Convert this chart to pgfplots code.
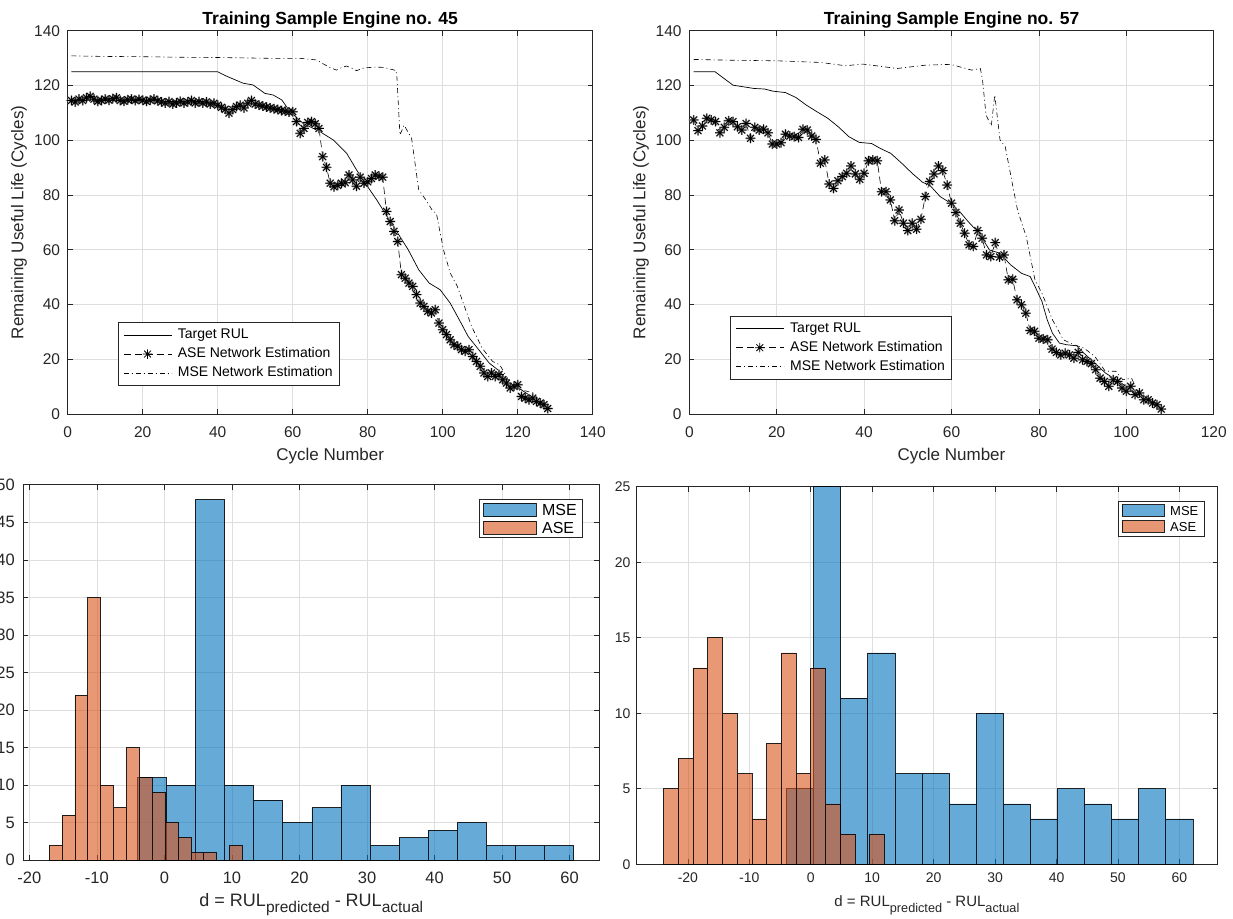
\documentclass[border=0pt]{standalone}
\usepackage{fontspec}
\setmainfont{Liberation Sans}
\usepackage{pgfplots}
\usepackage{pgfplotstable}
\pgfplotsset{compat=1.18}
\definecolor{mblue}{rgb}{0,0.447,0.741}
\definecolor{morange}{rgb}{0.85,0.325,0.098}
\definecolor{gridc}{RGB}{222,222,222}
\definecolor{axc}{RGB}{38,38,38}

\pgfdeclareplotmark{mstar}{%
  \pgfpathmoveto{\pgfqpoint{-\pgfplotmarksize}{0pt}}\pgfpathlineto{\pgfqpoint{\pgfplotmarksize}{0pt}}%
  \pgfpathmoveto{\pgfqpoint{0pt}{-\pgfplotmarksize}}\pgfpathlineto{\pgfqpoint{0pt}{\pgfplotmarksize}}%
  \pgfpathmoveto{\pgfqpoint{-0.707\pgfplotmarksize}{-0.707\pgfplotmarksize}}\pgfpathlineto{\pgfqpoint{0.707\pgfplotmarksize}{0.707\pgfplotmarksize}}%
  \pgfpathmoveto{\pgfqpoint{-0.707\pgfplotmarksize}{0.707\pgfplotmarksize}}\pgfpathlineto{\pgfqpoint{0.707\pgfplotmarksize}{-0.707\pgfplotmarksize}}%
  \pgfusepathqstroke}

% ASE estimates, engine 45
\pgfplotstableread{
x y
1 114.5
2 114
3 115
4 114.5
5 115.5
6 116
7 115
8 114.2
9 114.5
10 115
11 114.6
12 115.2
13 115.5
14 114.5
15 114.2
16 114.8
17 115
18 114.5
19 114.9
20 114.6
21 114.2
22 114.6
23 115
24 114.4
25 114
26 113.6
27 114.1
28 113.2
29 113.6
30 114.2
31 113.6
32 114
33 114.5
34 113.6
35 114.1
36 113.6
37 114
38 113.2
39 113.5
40 112.8
41 112
42 111.3
43 109.9
44 111.2
45 112.3
46 112.8
47 111.8
48 113.5
49 114.5
50 113.2
51 112.8
52 112.5
53 112.1
54 111.8
55 111.5
56 111.2
57 110.8
58 110.6
59 110.3
60 110.4
61 106.8
62 102.5
63 104.3
64 106.5
65 106.8
66 106
67 104.3
68 94
69 90.1
70 84.3
71 83
72 83.5
73 84.3
74 84.5
75 87.3
76 85.5
77 83.2
78 86.5
79 84.3
80 84.8
81 86
82 87.3
83 86.8
84 86.5
85 74
86 70.3
87 66.7
88 63
89 50.9
90 49.6
91 47.8
92 46.6
93 43.6
94 40.5
95 39.3
96 37.5
97 36.9
98 38.1
99 33.2
100 30.8
101 29
102 27.1
103 25.3
104 24.7
105 23.5
106 22.9
107 23.5
108 21
109 19.2
110 17.4
111 15
112 13.7
113 15
114 13.7
115 14.4
116 12.5
117 11.3
118 9.5
119 10.1
120 10.7
121 6.4
122 5.8
123 5.2
124 5.8
125 4.6
126 4
127 3.4
128 2
}\aseA

% ASE estimates, engine 57
\pgfplotstableread{
x y
1 107.4
2 103.5
3 105.2
4 108
5 107.4
6 106.8
7 102.7
8 104.7
9 107.1
10 106.8
11 104.9
12 103.7
13 106.1
14 100.7
15 104.7
16 103.7
17 104
18 102.7
19 98.6
20 98.6
21 99.1
22 102.2
23 101.5
24 101.3
25 101
26 104
27 103.7
28 101.5
29 100.3
30 91.6
31 92.8
32 84
33 82.4
34 85.2
35 86.7
36 87.9
37 90.6
38 87.7
39 85.7
40 87.9
41 92.5
42 92.8
43 92.5
44 81.2
45 81.2
46 78.2
47 70.6
48 74.5
49 69.7
50 67
51 69.7
52 67.5
53 71.1
54 79.4
55 84.9
56 87.7
57 90.6
58 88.9
59 83.6
60 77
61 73.6
62 69.7
63 66
64 61.8
65 61.2
66 67
67 64.2
68 58.1
69 57.5
70 62.6
71 57.3
72 58.1
73 49
74 49.2
75 41.7
76 39.9
77 36.8
78 30.5
79 30.2
80 27.7
81 27.4
82 27.1
83 23.7
84 22.5
85 21.6
86 22.2
87 21.6
88 20.4
89 22.5
90 19.8
91 19.2
92 18.4
93 16.2
94 13.1
95 11.9
96 10.1
97 12.5
98 11.9
99 9.5
100 8.3
101 10.1
102 7.1
103 7.7
104 5.2
105 5.2
106 4
107 3.4
108 1.8
}\aseB

\pgfplotsset{
  mat/.style={
    scale only axis,
    axis line style={axc, line width=0.6pt},
    every tick/.style={axc, line width=0.6pt},
    major tick length=5pt,
    grid=major,
    major grid style={gridc, line width=0.6pt},
    /pgf/number format/assume math mode=true,
    every tick label/.append style={inner sep=0pt, text=axc},
  },
  topax/.style={
    mat,
    width=525pt, height=383.3pt,
    ymin=0, ymax=140, ytick={0,20,...,140},
    tick label style={font=\fontsize{15.5}{15.5}\selectfont},
    xticklabel style={yshift=-12.5pt},
    yticklabel style={xshift=-7.5pt},
    every axis title shift=0pt,
    title style={font=\bfseries\fontsize{17.5}{17.5}\selectfont, at={(axis description cs:0.5,1.0167)}, anchor=base},
    xlabel style={font=\fontsize{17}{17}\selectfont, text=axc, at={(axis description cs:0.5,-0.1226)}, anchor=base},
    ylabel style={font=\fontsize{17}{17}\selectfont, text=axc, at={(axis description cs:-0.0928,0.5)}, anchor=center, rotate=0},
    xlabel={Cycle Number},
    ylabel={Remaining Useful Life (Cycles)},
    legend cell align=left,
    legend image code/.code={\draw[mark repeat=2,mark phase=2,#1] plot coordinates {(0pt,0pt) (24pt,0pt) (48pt,0pt)};},
  },
  toplegend/.style={draw=axc, line width=0.6pt, fill=white,
    font=\fontsize{14}{14}\selectfont, inner xsep=5pt, inner ysep=4pt, row sep=2.6pt,
    nodes={inner sep=1.5pt, text height=10.5pt, text depth=3pt},
    /tikz/every odd column/.append style={column sep=4.5pt}},
  histlegend/.style={draw=axc, line width=0.6pt, fill=white,
    inner xsep=4pt, inner ysep=3pt, row sep=3pt,
    /tikz/every odd column/.append style={column sep=4pt}},
  tgt/.style={black, line width=0.7pt, solid},
  ase/.style={black, line width=0.6pt, dash pattern=on 7pt off 4pt, mark=mstar, mark size=4.8pt, mark options={solid, line width=0.75pt}},
  asehalo/.style={only marks, forget plot, mark=mstar, mark size=4.9pt, mark options={solid, draw=black!45, line width=1.6pt}},
  mse/.style={black, line width=0.6pt, dash pattern=on 5pt off 3pt on 1pt off 3pt},
  hist/.style={ybar interval, fill=#1, fill opacity=0.6, draw=black, draw opacity=0.85, line width=0.6pt},
}

\begin{document}
\begin{tikzpicture}

% ---------------- Top left ----------------
\begin{axis}[topax, at={(67.7pt,504pt)}, anchor=south west,
  xmin=0, xmax=140, xtick={0,20,...,140},
  title={Training Sample Engine no. 45},
  legend style={toplegend, at={(0.0956,0.0738)}, anchor=south west},
]
\addplot[tgt] coordinates {
(1,125) (40,125) (42,123.6) (46.8,120.8) (49.4,120.2) (52.6,117.1) (54.8,116.5) (57.1,114.7)
(59.3,110.4) (62.8,106.1) (67.3,103.1) (70.8,100.1) (74.4,95.2) (77.1,89) (79.7,83.6) (82.4,78.2)
(85.2,72.1) (88,66.1) (90.8,60) (93.6,52.7) (96.4,47.8) (99.3,45.4) (102,40.5) (104.9,33.2)
(106.8,28.3) (109.6,23.5) (112.4,18.6) (115.2,15.6) (118,10.7) (120.9,8.9) (123.6,6.4) (126.5,2.8) (128,1)};
\addlegendentry{Target RUL}
\addplot[asehalo] table {\aseA};
\addplot[ase] table {\aseA};
\addlegendentry{ASE Network Estimation}
\addplot[mse] coordinates {
(1,130.8) (10,130.6) (20,130.5) (30,130.3) (40,130.2) (50,130) (55,129.9) (62,129.9) (66.4,129.3)
(68,128) (70,126.5) (71.7,125.6) (73,126.5) (74.3,127.1) (75.5,126.5) (77,125.4) (78.8,126.3) (80,126.5)
(82,126.7) (84.1,126.6) (86,126) (87.7,125.4) (88.6,101.9) (89.7,105.5) (91.7,100.7) (93.6,81.9)
(95.5,78.2) (97.4,74) (98.3,73.4) (100.2,60) (102,51.5) (103.9,46.6) (105.8,39.3) (107.7,32)
(110.5,24.1) (113.3,19.2) (115.2,18) (118,11.3) (120.8,8.9) (124.1,7.7) (126.5,2.8) (128,1.6)};
\addlegendentry{MSE Network Estimation}
\end{axis}

% ---------------- Top right ----------------
\begin{axis}[topax, at={(689.3pt,504pt)}, anchor=south west, width=524.4pt,
  xmin=0, xmax=120, xtick={0,20,...,120},
  ylabel style={at={(axis description cs:-0.0921,0.5)}},
  title={Training Sample Engine no. 57},
  legend style={toplegend, at={(0.078,0.0905)}, anchor=south west},
]
\addplot[tgt] coordinates {
(1,125) (5.9,125) (7.9,122.6) (10,120.1) (12.4,119.5) (14.8,118.9) (17.2,118.7) (19.2,117.9)
(22,117.4) (24.4,115.6) (26.8,112.8) (29.2,110.4) (31.7,108) (34.1,104.9) (36.5,101.3) (38.9,99.2)
(41.7,98.8) (43.7,97) (46.1,95.2) (48.6,91.6) (51,87.9) (53.4,84.6) (55,83.6) (57.4,79.4)
(59.8,77) (62.2,73.3) (63.8,70.3) (66.3,66) (68.7,59.9) (71.1,58.7) (73.5,54.5) (76,51.4)
(78,50.2) (79.1,46.6) (80.7,41.1) (81.9,34.4) (83.1,29.5) (84.7,25.9) (86.3,25.3) (88.7,24.9)
(90.3,22.2) (92.8,18.6) (95.2,15) (97.6,12.5) (100,10.1) (102.4,7.1) (104.8,5.2) (106.8,2.8) (108,1.6)};
\addlegendentry{Target RUL}
\addplot[asehalo] table {\aseB};
\addplot[ase] table {\aseB};
\addlegendentry{ASE Network Estimation}
\addplot[mse] coordinates {
(1,129.5) (10,129.2) (20,129) (30.1,128.4) (35.7,127.2) (39.7,127.8) (47.6,126.2) (54,127.4)
(59.8,127.7) (64.6,125.6) (66.6,126.2) (67.1,122) (67.9,109.2) (69.1,105.2) (69.9,116.5) (71.1,100.1)
(72.3,97.6) (73.9,84.3) (75.1,74.5) (77.1,64.8) (79.1,49) (80.7,44.1) (83.1,34.4) (85.6,27.1)
(88,25.3) (90.3,24.1) (92.8,21) (95.2,15.6) (97.6,15.6) (99.2,12.5) (101.2,13.1) (102.4,8.9)
(104.8,6.4) (107.2,3.4) (108,2.2)};
\addlegendentry{MSE Network Estimation}
\end{axis}

% ---------------- Bottom left ----------------
\begin{axis}[mat, at={(23.3pt,57.7pt)}, anchor=south west, width=576pt, height=375.6pt,
  xmin=-20.9, xmax=64.4, ymin=0, ymax=50,
  xtick={-20,-10,...,60}, ytick={0,5,...,50},
  tick label style={font=\fontsize{16.5}{16.5}\selectfont},
  xticklabel style={yshift=-11.4pt},
  yticklabel style={xshift=-8.3pt},
  xlabel={d = RUL\raisebox{-6.5pt}{\fontsize{15.5}{15.5}\selectfont predicted} - RUL\raisebox{-6.5pt}{\fontsize{15.5}{15.5}\selectfont actual}},
  xlabel style={font=\fontsize{18}{18}\selectfont, text=axc, at={(axis description cs:0.5,-0.1217)}, anchor=base},
  legend style={histlegend, at={(0.971,0.961)}, anchor=north east,
    font=\fontsize{16}{16}\selectfont,
    nodes={inner sep=1.5pt, text height=11.5pt, text depth=0pt}},
  legend cell align=left,
]
\addplot[hist=mblue, legend image code/.code={\draw[fill=mblue, fill opacity=0.6, draw=black, line width=0.6pt] (0pt,-6.6pt) rectangle (52.6pt,6.6pt);}] coordinates {
(-4.02,11) (0.288,10) (4.596,48) (8.904,10) (13.212,8) (17.52,5) (21.828,7) (26.136,10)
(30.444,2) (34.752,3) (39.06,4) (43.368,5) (47.676,2) (51.984,2) (56.292,2) (60.6,2)};
\addlegendentry{MSE}
\addplot[hist=morange, legend image code/.code={\draw[fill=morange, fill opacity=0.6, draw=black, line width=0.6pt] (0pt,-6.6pt) rectangle (52.6pt,6.6pt);}] coordinates {
(-17.07,2) (-15.163,6) (-13.256,22) (-11.349,35) (-9.442,10) (-7.535,7) (-5.628,15) (-3.721,11)
(-1.814,9) (0.093,5) (2.0,3) (3.907,1) (5.814,1) (7.721,0) (9.628,2) (11.535,2)};
\addlegendentry{ASE}
\end{axis}

% ---------------- Bottom right ----------------
\begin{axis}[mat, at={(636.3pt,53.7pt)}, anchor=south west, width=581.2pt, height=377.6pt,
  xmin=-28.4, xmax=66.2, ymin=0, ymax=25,
  xtick={-20,-10,...,60}, ytick={0,5,...,25},
  tick label style={font=\fontsize{14}{14}\selectfont},
  xticklabel style={yshift=-8.7pt},
  yticklabel style={xshift=-5.6pt},
  xlabel={d = RUL\raisebox{-5.3pt}{\fontsize{12.7}{12.7}\selectfont predicted} - RUL\raisebox{-5.3pt}{\fontsize{12.7}{12.7}\selectfont actual}},
  xlabel style={font=\fontsize{15}{15}\selectfont, text=axc, at={(axis description cs:0.5,-0.1123)}, anchor=base},
  legend style={histlegend, at={(0.977,0.963)}, anchor=north east,
    font=\fontsize{13}{13}\selectfont,
    nodes={inner sep=1.5pt, text height=10pt, text depth=0pt}},
  legend cell align=left,
]
\addplot[hist=mblue, legend image code/.code={\draw[fill=mblue, fill opacity=0.6, draw=black, line width=0.6pt] (0pt,-5.8pt) rectangle (42.2pt,5.8pt);}] coordinates {
(-3.96,5) (0.45,25) (4.86,11) (9.27,14) (13.68,6) (18.09,6) (22.5,4) (26.91,10)
(31.32,4) (35.73,3) (40.14,5) (44.55,4) (48.96,3) (53.37,5) (57.78,3) (62.19,3)};
\addlegendentry{MSE}
\addplot[hist=morange, legend image code/.code={\draw[fill=morange, fill opacity=0.6, draw=black, line width=0.6pt] (0pt,-5.8pt) rectangle (42.2pt,5.8pt);}] coordinates {
(-24,5) (-21.6,7) (-19.2,13) (-16.8,15) (-14.4,10) (-12,6) (-9.6,3) (-7.2,8)
(-4.8,14) (-2.4,6) (0,13) (2.4,4) (4.8,2) (7.2,0) (9.6,2) (12,2)};
\addlegendentry{ASE}
\end{axis}

\pgfresetboundingbox
\path[use as bounding box] (0,0) rectangle (1233pt,918pt);
\end{tikzpicture}
\end{document}
